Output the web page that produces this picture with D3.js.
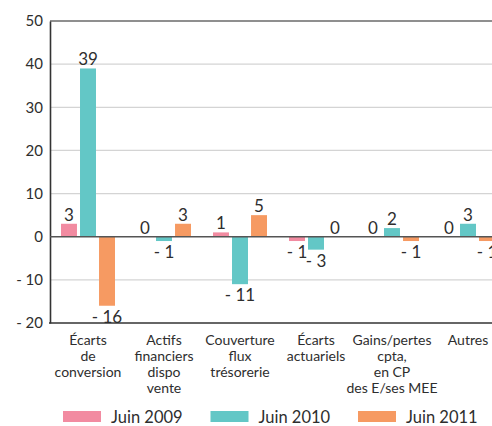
<!DOCTYPE html>
<html>
<head>
<meta charset="utf-8">
<script src="https://cdn.jsdelivr.net/npm/d3@7"></script>
<style>
  body { margin: 0; background: #fff; }
  svg text { font-family: Lato, "Open Sans", sans-serif; fill: #2e2e2e; }
</style>
</head>
<body>
<div id="chart"><svg></svg></div>
<script>
(function() {

  var width = 492, height = 426;

  // categories (one label line per entry)
  var categories = [
    ["Écarts", "de", "conversion"],
    ["Actifs", "financiers", "dispo", "vente"],
    ["Couverture", "flux", "trésorerie"],
    ["Écarts", "actuariels"],
    ["Gains/pertes", "cpta,", "en CP", "des E/ses MEE"],
    ["Autres"]
  ]
  var series = ["Juin 2009", "Juin 2010", "Juin 2011"]
  var juin2009 = [3, 0, 1, -1, 0, 0]
  var juin2010 = [39, -1, -11, -3, 2, 3]
  var juin2011 = [-16, 3, 5, 0, -1, -1]
  var yTicks = [-20, -10, 0, 10, 20, 30, 40, 50]

  var values = [juin2009, juin2010, juin2011]
  var colors = ["#f28ba1", "#63c7c6", "#f69a62"]

  var svg = d3.select("#chart").select("svg")
    .attr("width", width)
    .attr("height", height)

  // plot runs past the right edge, like the original
  var x0 = d3.scaleBand().domain(d3.range(categories.length)).range([50, 506])
  var x1 = d3.scaleBand().domain(d3.range(series.length))
    .range([11, 65]).paddingInner(0.16)
  var y = d3.scaleLinear().domain([-20, 50]).range([323, 21])
  var color = d3.scaleOrdinal().domain(d3.range(3)).range(colors)

  function fmt(v) { return v < 0 ? "- " + Math.abs(v) : String(v) }

  // gridlines
  svg.append("g").selectAll("line")
    .data(yTicks.filter(d => d !== 0 && d !== 50 && d !== -20))
    .enter().append("line")
    .attr("x1", 50).attr("x2", width)
    .attr("y1", d => y(d)).attr("y2", d => y(d))
    .attr("stroke", "#d4d4d4").attr("stroke-width", 1.2)

  // top border
  svg.append("line")
    .attr("x1", 50).attr("x2", width)
    .attr("y1", y(50)).attr("y2", y(50))
    .attr("stroke", "#6a6a6a").attr("stroke-width", 1.6)

  // y axis
  var yAxis = svg.append("g")
    .attr("transform", "translate(50,0)")
    .call(d3.axisLeft(y).tickValues(yTicks).tickSize(0).tickPadding(7).tickFormat(fmt))
  yAxis.select(".domain").attr("stroke", "#333").attr("stroke-width", 1.6)
  yAxis.selectAll("text").attr("font-size", 15).attr("fill", "#2e2e2e")
    .attr("font-family", "Lato, sans-serif")

  // bars
  var data = []
  categories.forEach((c, i) => {
    values.forEach((s, j) => { data.push({ cat: i, ser: j, v: s[i] }) })
  })

  svg.append("g").selectAll("rect")
    .data(data)
    .enter().append("rect")
    .attr("x", d => x0(d.cat) + x1(d.ser))
    .attr("width", x1.bandwidth())
    .attr("y", d => y(Math.max(0, d.v)))
    .attr("height", d => Math.abs(y(d.v) - y(0)))
    .attr("fill", d => color(d.ser))

  // zero line
  svg.append("line")
    .attr("x1", 50).attr("x2", width)
    .attr("y1", y(0)).attr("y2", y(0))
    .attr("stroke", "#555").attr("stroke-width", 1.4)

  // bottom axis line
  svg.append("line")
    .attr("x1", 49).attr("x2", width)
    .attr("y1", y(-20)).attr("y2", y(-20))
    .attr("stroke", "#333").attr("stroke-width", 1.6)

  // value labels
  svg.append("g").selectAll("text")
    .data(data)
    .enter().append("text")
    .attr("x", d => x0(d.cat) + x1(d.ser) + x1.bandwidth() / 2)
    .attr("y", d => d.v < 0 ? y(d.v) + 17 : y(d.v) - 3)
    .attr("text-anchor", "middle")
    .attr("font-size", 17)
    .text(d => fmt(d.v))

  // category labels
  var catG = svg.append("g").selectAll("text")
    .data(categories)
    .enter().append("text")
    .attr("text-anchor", "middle")
    .attr("font-size", 14)
    .attr("transform", (d, i) => "translate(" + (x0(i) + x0.bandwidth() / 2) + ",345)")
  catG.selectAll("tspan")
    .data(d => d)
    .enter().append("tspan")
    .attr("x", 0)
    .attr("y", (d, i) => i * 16)
    .text(d => d)

  // legend
  var legendX = d3.scalePoint().domain(d3.range(series.length)).range([63, 358])
  var legend = svg.append("g").selectAll("g")
    .data(series)
    .enter().append("g")
    .attr("transform", (d, i) => "translate(" + legendX(i) + ",411)")
  legend.append("rect")
    .attr("width", 38).attr("height", 11)
    .attr("fill", (d, i) => color(i))
  legend.append("text")
    .attr("x", 48).attr("y", 12)
    .attr("font-size", 16.5)
    .text(d => d)

})()
</script>
</body>
</html>
